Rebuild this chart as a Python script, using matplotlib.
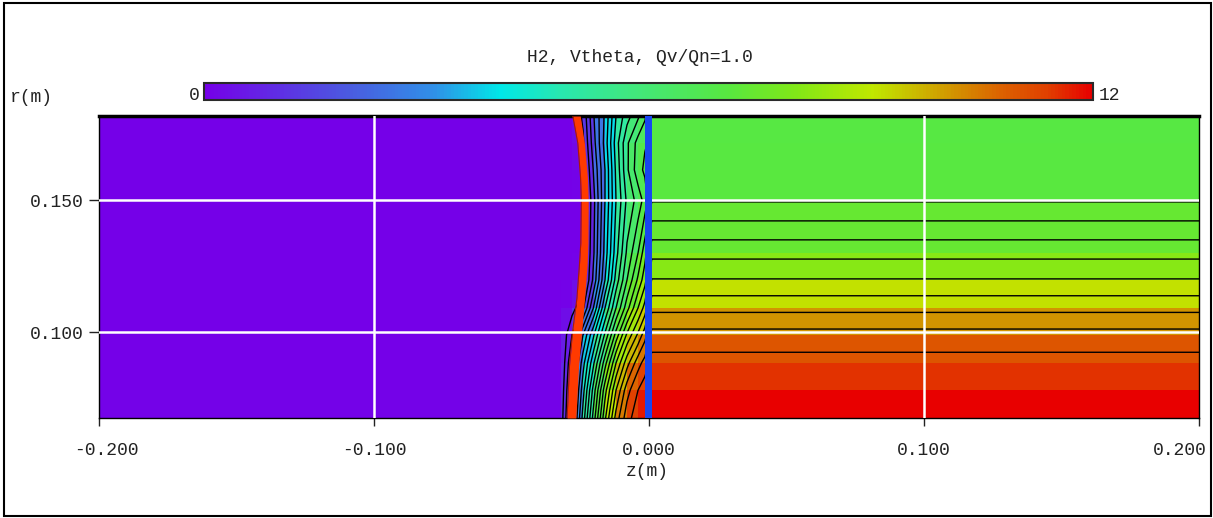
import numpy as np
import matplotlib
matplotlib.use("Agg")
import matplotlib.pyplot as plt
import matplotlib.transforms as mtrans
from matplotlib.colors import LinearSegmentedColormap, Normalize
from matplotlib.cm import ScalarMappable
from matplotlib.patches import Rectangle

plt.rcParams['font.family'] = ['Liberation Mono', 'DejaVu Sans Mono']

# noeuds du maillage (z axial, r radial)
z_nodes = [-0.200, -0.032, -0.028, -0.024, -0.020, -0.016, -0.012, -0.008, -0.004, -0.0015, 0.001, 0.200]
r_nodes = [0.0675, 0.0780, 0.0883, 0.0989, 0.1091, 0.1197, 0.1299, 0.1500, 0.1614, 0.1716, 0.1818]

# Vtheta aux noeuds (lignes = r, colonnes = z)
vtheta = [
    [0, 0.2, 2.0, 4.2, 6.3, 8.4, 10.2, 11.3, 11.8, 11.9, 12.0, 12.0],
    [0, 0.1, 1.8, 3.8, 5.8, 7.8, 9.5, 10.8, 11.5, 11.8, 11.9, 11.9],
    [0, 0.0, 1.5, 3.3, 5.0, 6.8, 8.5, 9.8, 10.8, 11.2, 11.7, 11.7],
    [0, 0.0, 1.0, 2.5, 4.0, 5.6, 7.2, 8.6, 9.6, 10.3, 11.18, 11.18],
    [0, 0.0, 0.3, 0.9, 2.6, 4.5, 6.0, 7.3, 8.5, 9.2, 10.37, 10.37],
    [0, 0.0, 0.0, 0.2, 1.7, 3.5, 5.2, 6.5, 7.6, 8.3, 9.53, 9.53],
    [0, 0.0, 0.0, 0.1, 1.5, 3.2, 4.8, 6.1, 7.0, 7.8, 8.85, 8.85],
    [0, 0.0, 0.0, 0.0, 1.4, 3.0, 4.5, 5.6, 6.2, 6.7, 7.45, 7.45],
    [0, 0.0, 0.0, 0.2, 1.6, 3.0, 4.6, 5.9, 6.8, 7.1, 7.2, 7.2],
    [0, 0.0, 0.0, 0.4, 1.85, 3.2, 4.75, 5.9, 6.7, 6.95, 7.1, 7.1],
    [0, 0.0, 0.0, 0.6, 2.0, 3.1, 4.5, 5.3, 5.9, 6.4, 7.05, 7.05],
]

# valeurs des mailles de la zone z > 0 (du bas vers le haut)
right_cells = [12.0, 11.5, 11.0, 10.1, 9.1, 8.1, 7.4, 7.1, 7.05, 7.0]

# front (bande rouge)
front_r = [0.0675, 0.0875, 0.100, 0.1129, 0.1254, 0.1337, 0.150, 0.1587, 0.1716, 0.1818]
front_z_left = [-0.0298, -0.0289, -0.0278, -0.0262, -0.0253, -0.0248, -0.0246, -0.0249, -0.0259, -0.0277]
front_z_right = [-0.0266, -0.0256, -0.0245, -0.0234, -0.0225, -0.0222, -0.0221, -0.0224, -0.0235, -0.0250]

# paroi (bande bleue)
wall_z = [-0.0015, 0.0010]

vmin, vmax = 0, 12
x_ticks = [-0.2, -0.1, 0.0, 0.1, 0.2]
y_ticks = [0.100, 0.150]

cmap = LinearSegmentedColormap.from_list('vt', [
    (0.0, '#7500e8'), (0.164, '#4a5ce0'), (0.258, '#3090e8'), (0.333, '#00e8e8'),
    (0.40, '#28e8b0'), (0.477, '#40e880'), (0.59, '#58e840'), (0.665, '#80e818'),
    (0.753, '#c0e800'), (0.83, '#d0a000'), (0.90, '#dc6000'), (0.95, '#e04000'),
    (1.0, '#e80000')])

Z = np.array(z_nodes)
R = np.array(r_nodes)
V = np.array(vtheta)
# valeur moyenne des 4 noeuds de chaque maille
cells = 0.25 * (V[:-1, :-1] + V[1:, :-1] + V[:-1, 1:] + V[1:, 1:])
cells[:, -1] = right_cells

fig = plt.figure(figsize=(12.13, 5.18), dpi=100)
ax = fig.add_axes([99 / 1213, 100 / 518, 1100 / 1213, 302 / 518])

ax.pcolormesh(Z, R, cells, cmap=cmap, vmin=vmin, vmax=vmax, shading='flat',
              antialiased=False, linewidth=0, zorder=1)
ax.contour(Z, R, V, levels=np.arange(0.5, 12, 0.5), colors='black', linewidths=1.0, zorder=2)
ax.fill_betweenx(front_r, front_z_left, front_z_right, color='#ff3a00', lw=0, zorder=3)
ax.plot(front_z_left, front_r, color='#b01800', lw=0.8, zorder=3)

for xv in x_ticks[1:-1]:
    ax.axvline(xv, color='white', lw=1.8, zorder=4)
for yv in y_ticks:
    ax.axhline(yv, color='white', lw=1.8, zorder=4)

ax.axvspan(wall_z[0], wall_z[1], color='#1846f0', lw=0, zorder=5)

ax.set_xlim(-0.2, 0.2)
ax.set_ylim(r_nodes[0], r_nodes[-1])
ax.set_xticks(x_ticks)
ax.set_xticklabels(['%.3f' % v for v in x_ticks])
ax.set_yticks(y_ticks)
ax.set_yticklabels(['%.3f' % v for v in y_ticks])
ax.tick_params(axis='x', direction='out', length=6, width=1, pad=11, labelsize=13, colors='#222222')
ax.tick_params(axis='y', direction='out', length=7, width=1, pad=4, labelsize=13, colors='#222222')
xl = ax.get_xticklabels()
xl[0].set_transform(xl[0].get_transform() + mtrans.ScaledTranslation(7 / 100, 0, fig.dpi_scale_trans))
xl[-1].set_horizontalalignment('right')
xl[-1].set_transform(xl[-1].get_transform() + mtrans.ScaledTranslation(8 / 100, 0, fig.dpi_scale_trans))
for s in ax.spines.values():
    s.set_color('black')
    s.set_linewidth(1.0)
ax.spines['top'].set_linewidth(2.5)

# barre de couleur
cax = fig.add_axes([204 / 1213, 418 / 518, 889 / 1213, 17 / 518])
cb = fig.colorbar(ScalarMappable(norm=Normalize(vmin, vmax), cmap=cmap), cax=cax, orientation='horizontal')
cb.set_ticks([])
cb.outline.set_edgecolor('#2a2a2a')
cb.outline.set_linewidth(1.5)
fig.text(200 / 1213, 1 - 96 / 518, '0', ha='right', va='center', fontsize=13, color='#222222')
fig.text(1099 / 1213, 1 - 96 / 518, '12', ha='left', va='center', fontsize=13, color='#222222')

fig.text(640 / 1213, 1 - 58 / 518, 'H2, Vtheta, Qv/Qn=1.0', ha='center', va='center', fontsize=13, color='#222222')
fig.text(10 / 1213, 1 - 97 / 518, 'r(m)', ha='left', va='center', fontsize=13, color='#222222')
fig.text(647 / 1213, 1 - 472 / 518, 'z(m)', ha='center', va='center', fontsize=13, color='#222222')

fig.patches.append(Rectangle((4 / 1213, 2 / 518), 1207 / 1213, 513 / 518, transform=fig.transFigure,
                             fill=False, ec='black', lw=1.5))

fig.savefig('out.png', dpi=100)
